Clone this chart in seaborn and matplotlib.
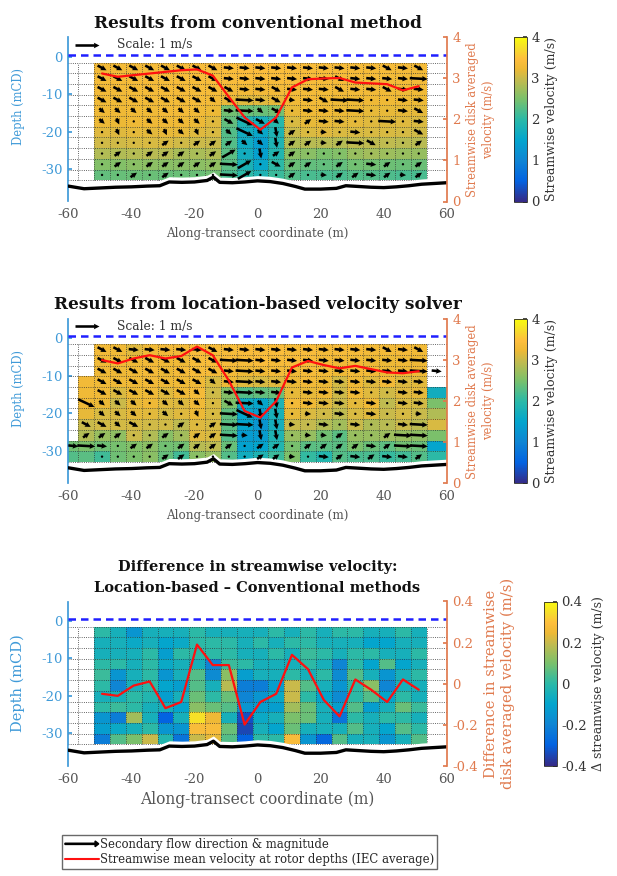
import numpy as np
import matplotlib
matplotlib.use("Agg")
import matplotlib.pyplot as plt
import seaborn as sns
from matplotlib.colors import LinearSegmentedColormap
from matplotlib.patches import FancyArrow
from matplotlib.legend_handler import HandlerPatch
from matplotlib.lines import Line2D

nan = np.nan

## MESH (cell edges, m)
x_edges = [-60.0, -56.8, -51.8, -46.8, -41.8, -36.7, -31.7, -26.7, -21.7, -16.7, -11.6,
           -6.6, -1.6, 3.4, 8.4, 13.5, 18.5, 23.5, 28.5, 33.5, 38.6, 43.6, 48.6, 53.6, 60.0]
row_edges = [-1.6, -4.45, -7.3, -10.15, -13.0, -15.85, -18.7, -21.55, -24.4, -27.25, -30.1, -32.95]

## bed profile
bed_x = [-60, -55, -50, -45, -40, -35, -31, -28, -24, -20, -16, -14, -12, -8, -4, 0, 4, 8,
         12, 15, 20, 25, 28, 32, 36, 40, 44, 48, 52, 56, 60]
bed_z = [-34.5, -35.2, -35.0, -34.8, -34.7, -34.5, -34.4, -33.4, -33.5, -33.4, -33.0, -32.1,
         -33.5, -33.6, -33.4, -33.1, -33.3, -33.8, -34.6, -35.3, -35.3, -35.1, -34.4, -34.6,
         -34.8, -34.9, -34.7, -34.4, -34.0, -33.8, -33.6]

## streamwise speed, conventional method (rows top->bottom, 21 columns)
conv_speed = [
    [3.30, 3.32, 3.30, 3.33, 3.35, 3.35, 3.38, 3.40, 3.42, 3.45, 3.45, 3.42, 3.40, 3.40, 3.38, 3.36, 3.35, 3.35, 3.36, 3.35, 3.34],
    [3.32, 3.33, 3.34, 3.35, 3.36, 3.36, 3.38, 3.38, 3.40, 3.42, 3.42, 3.40, 3.38, 3.36, 3.35, 3.34, 3.33, 3.33, 3.32, 3.32, 3.30],
    [3.30, 3.30, 3.32, 3.33, 3.35, 3.35, 3.36, 3.35, 3.30, 3.30, 3.30, 3.30, 3.32, 3.33, 3.32, 3.30, 3.30, 3.30, 3.28, 3.28, 3.27],
    [3.28, 3.28, 3.30, 3.30, 3.32, 3.32, 3.33, 3.30, 3.20, 3.15, 3.15, 3.20, 3.28, 3.30, 3.28, 3.27, 3.26, 3.25, 3.25, 3.24, 3.22],
    [3.25, 3.26, 3.27, 3.28, 3.30, 3.30, 3.28, 3.22, 2.45, 2.40, 2.40, 2.45, 3.20, 3.25, 3.25, 3.22, 3.22, 3.20, 3.20, 3.20, 3.18],
    [3.22, 3.22, 3.24, 3.25, 3.25, 3.25, 3.22, 3.15, 2.35, 1.85, 1.75, 1.95, 3.10, 3.20, 3.20, 3.18, 3.18, 3.15, 3.15, 3.15, 3.12],
    [3.15, 3.15, 3.18, 3.18, 3.20, 3.20, 3.15, 3.10, 2.25, 1.70, 1.55, 1.85, 3.00, 3.12, 3.15, 3.12, 3.10, 3.10, 3.10, 3.08, 3.05],
    [3.05, 3.05, 3.08, 3.10, 3.10, 3.05, 3.02, 3.00, 2.25, 1.65, 1.40, 1.85, 2.85, 2.90, 2.90, 2.88, 2.95, 2.95, 2.95, 2.92, 2.90],
    [2.85, 2.85, 2.88, 2.90, 2.88, 2.80, 2.80, 2.85, 2.30, 1.70, 1.45, 1.90, 2.60, 2.60, 2.50, 2.55, 2.70, 2.75, 2.72, 2.70, 2.68],
    [2.55, 2.55, 2.60, 2.62, 2.60, 2.60, 2.62, 2.65, 2.30, 1.80, 1.55, 2.00, 2.40, 2.35, 2.35, 2.35, 2.45, 2.45, 2.42, 2.40, 2.40],
    [2.35, 2.38, 2.40, 2.40, 2.38, 2.40, 2.40, 2.45, 2.20, 2.00, 1.85, 2.10, 2.25, 2.20, 2.20, 2.20, 2.25, 2.25, 2.22, 2.20, 2.20],
]

## location-based minus conventional, one list per column (top->bottom)
diff_by_column = [
    [0.00, -0.05, -0.05, 0.00, 0.02, 0.00, -0.05, 0.00, -0.15, -0.12, -0.22],
    [-0.05, -0.05, -0.05, 0.00, -0.15, -0.20, -0.05, 0.02, -0.22, -0.08, 0.05],
    [-0.15, -0.08, -0.05, -0.05, -0.05, -0.05, 0.00, 0.00, 0.15, -0.05, 0.10],
    [-0.05, -0.05, 0.00, 0.00, 0.00, 0.00, -0.02, -0.05, -0.05, 0.00, 0.20],
    [-0.05, -0.10, -0.12, -0.08, -0.15, -0.10, -0.12, -0.05, -0.30, -0.15, -0.02],
    [-0.05, -0.08, 0.00, -0.05, -0.05, -0.12, -0.05, -0.10, -0.05, -0.15, -0.25],
    [0.00, 0.00, 0.00, -0.05, 0.05, 0.05, 0.08, 0.12, 0.35, 0.28, 0.20],
    [-0.05, 0.00, 0.00, -0.20, -0.18, -0.05, 0.00, 0.08, 0.25, 0.28, 0.24],
    [-0.05, 0.00, 0.00, 0.02, 0.12, 0.18, 0.08, 0.05, -0.05, 0.08, 0.05],
    [-0.05, -0.05, -0.05, 0.00, -0.12, -0.22, -0.20, -0.15, -0.33, -0.35, -0.30],
    [-0.05, 0.00, -0.05, -0.05, -0.05, -0.22, -0.15, -0.12, -0.08, -0.05, 0.00],
    [0.00, -0.05, 0.00, -0.05, -0.05, -0.12, -0.08, -0.12, -0.05, -0.10, 0.00],
    [-0.05, 0.00, -0.05, -0.05, 0.00, 0.20, 0.20, 0.15, 0.10, 0.08, 0.28],
    [0.00, 0.00, 0.02, 0.00, -0.05, 0.05, 0.00, 0.08, 0.08, -0.05, -0.15],
    [-0.05, -0.05, 0.00, -0.05, 0.00, -0.05, -0.10, -0.05, -0.05, -0.05, -0.28],
    [0.00, -0.05, -0.05, -0.20, -0.18, -0.15, -0.18, -0.12, -0.25, -0.05, 0.05],
    [0.00, -0.05, 0.00, 0.00, 0.05, 0.00, 0.00, 0.05, 0.00, 0.05, -0.05],
    [-0.05, -0.10, 0.00, -0.10, -0.05, 0.12, 0.05, -0.12, -0.05, -0.05, -0.05],
    [-0.05, -0.10, -0.05, 0.05, -0.15, -0.20, -0.10, -0.05, 0.00, -0.10, -0.15],
    [0.00, -0.05, -0.05, -0.10, -0.05, -0.05, 0.00, 0.08, 0.00, 0.05, -0.05],
    [-0.05, -0.05, 0.00, -0.05, 0.00, -0.05, -0.05, 0.02, -0.05, 0.00, 0.05],
]

## extra edge columns only resolved by the location-based solver
loc_left_outer = [nan, nan, nan, nan, nan, nan, nan, nan, nan, 2.45, 2.25]
loc_left_inner = [nan, nan, nan, 3.30, 3.28, 3.25, 3.20, 3.00, 2.85, 2.50, 2.30]
loc_right_edge = [nan, nan, nan, nan, 1.70, 2.50, 2.85, 3.10, 2.50, 1.50, 2.00]

## disk averaged velocity at rotor depths
rotor_x = [-49.3, -44.3, -39.3, -34.2, -29.2, -24.2, -19.2, -14.2, -9.1, -4.1, 0.9, 5.9,
           10.9, 16.0, 21.0, 26.0, 31.0, 36.0, 41.1, 46.1, 51.1]
conv_rotor = [3.12, 3.04, 3.08, 3.12, 3.16, 3.20, 3.22, 3.07, 2.55, 2.05, 1.75, 2.05, 2.78,
              2.98, 3.00, 3.01, 2.90, 2.88, 2.86, 2.71, 2.81]
loc_rotor = [3.00, 2.92, 3.04, 3.12, 3.04, 3.10, 3.33, 3.12, 2.50, 1.76, 1.60, 2.00, 2.82,
             2.98, 2.88, 2.80, 2.86, 2.78, 2.70, 2.68, 2.73]
diff_rotor = [-0.05, -0.06, -0.01, 0.01, -0.12, -0.09, 0.19, 0.09, 0.09, -0.20, -0.09, -0.05,
              0.14, 0.07, -0.08, -0.16, 0.02, -0.03, -0.09, 0.02, -0.03]

## secondary flow glyphs: code -> (screen angle deg, magnitude m/s)
flow_glyphs = {'a': (-28, 0.42), 'b': (-40, 0.30), 'd': (-65, 0.28), 'w': (-25, 0.75),
               'h': (-6, 0.42), 'H': (-3, 0.75), 's': (-4, 0.26), 'u': (35, 0.33),
               'U': (30, 0.65), 'v': (-80, 0.42), '.': (0, 0.05)}
conv_flow = [
    "aaaaaaaa" "hhhhhhh" "hhhaha",
    "aaaaaaaa" "hhhhhhh" "ahhhhH",
    "aaaaaaaa" "ahhahhh" "ahhahh",
    "aaaaaaab" "aHhasha" "HH..hh",
    "bbbbbbb." "hHba.hh" "hH..ha",
    "bd.bbbb." "awab.uh" "h..H.h",
    ".d.bdbd." "bwbvu.s" ".h...a",
    "....u.uu" "ubbvuus" "uHa..u",
    ".u.uuu.u" "U.vuu.." "......",
    ".u.uuuuu" "HU.auu." "u.hu.u",
    "..u.u..." "HU..u.s" "uuhusu",
]
loc_flow = [
    "  " "aahhhhha" "hhhhhhh" "hhhaha" " ",
    "  " "aaaaaaaa" "HHhhhhh" "hhhhhH" " ",
    "  " "aaaaaaaa" "hHhhhhh" "hhhhhH" "h",
    "  " "aaaaaaab" "hHhhhhh" "hhhhhh" " ",
    "  " "aaaaaab." "hHhh.hh" "hh..hh" " ",
    " w" "bbb.bbb." "aHbv.hh" "h.h.hh" " ",
    "  " "bbb.b.d." "Hwvv.s." "h.h..s" " ",
    " a" "aba..u.u" "HHvvs.h" ".h..hH" " ",
    " u" "uu..u.uu" "Hsvv.ss" "u..uHH" " ",
    "hH" "h.uu.uuu" "u.uu.uu" "uuhuHH" " ",
    "  " "....uu.." "..uus.h" "uhuhhu" " ",
]

# parula-like colormap
parula = LinearSegmentedColormap.from_list("parula", [
    (0.000, (0.2081, 0.1663, 0.5292)), (0.125, (0.0116, 0.3875, 0.8820)),
    (0.250, (0.0589, 0.5198, 0.8305)), (0.375, (0.0133, 0.6451, 0.8040)),
    (0.500, (0.1664, 0.7258, 0.6566)), (0.625, (0.4783, 0.7548, 0.4209)),
    (0.750, (0.7800, 0.7300, 0.3000)), (0.810, (0.9300, 0.7250, 0.2100)),
    (0.870, (0.9950, 0.7450, 0.2400)), (0.930, (0.9650, 0.8600, 0.1750)),
    (1.000, (0.9763, 0.9831, 0.0538))])

LEFT_C = '#3f9ad8'
RIGHT_C = '#e07a4e'
GREY = '#555555'


def pad(main, left2=None, left1=None, right=None):
    n = len(main)
    blank = [nan] * n
    return np.column_stack([left2 or blank, left1 or blank, np.array(main), right or blank])


def decode(rows):
    ang = np.full((len(rows), len(rows[0])), np.nan)
    mag = np.full_like(ang, np.nan)
    for i, r in enumerate(rows):
        for j, c in enumerate(r):
            if c in flow_glyphs:
                ang[i, j], mag[i, j] = flow_glyphs[c]
    return mag * np.cos(np.radians(ang)), mag * np.sin(np.radians(ang))


conv = pad(conv_speed)
diff_main = np.array(diff_by_column).T
diff = pad(diff_main)
loc = pad(np.array(conv_speed) + diff_main, loc_left_outer, loc_left_inner, loc_right_edge)

xc = 0.5 * (np.array(x_edges[:-1]) + np.array(x_edges[1:]))
yc = 0.5 * (np.array(row_edges[:-1]) + np.array(row_edges[1:]))
XC, YC = np.meshgrid(xc, yc)

sns.set_theme(style='white')
plt.rcParams['font.family'] = ['DejaVu Serif']
plt.rcParams['axes.unicode_minus'] = False

fig = plt.figure(figsize=(6.17, 8.76), dpi=100)
W, H = 617, 876


def frac(l, t, w, h):
    return [l / W, 1 - (t + h) / H, w / W, h / H]


def draw_panel(top, field, vmin, vmax, cticks, rotor, rlim, rticks, rlabels,
               title, rlabel, clabel, flow=None, big=False, cb_left=514):
    ax = fig.add_axes(frac(68.3, top, 378.5, 164.1))
    cax = fig.add_axes(frac(cb_left, top, 13, 164.1))
    mesh = ax.pcolormesh(x_edges, row_edges, np.ma.masked_invalid(field), cmap=parula,
                         vmin=vmin, vmax=vmax, shading='flat', zorder=1)
    ax.hlines(row_edges, -60, 60, colors='#333333', linestyles=':', linewidth=0.6, zorder=2)
    ax.vlines(x_edges[1:-1], row_edges[-1], row_edges[0], colors='#333333',
              linestyles=':', linewidth=0.6, zorder=2)
    ax.fill_between(bed_x, bed_z, np.array(bed_z) + 1.4, color='white', lw=0, zorder=3)
    sns.lineplot(x=bed_x, y=bed_z, color='black', lw=2.4, ax=ax, sort=False, zorder=4)
    ax.axhline(0.5, color='#1f1fff', lw=1.8, ls=(0, (3, 2)), zorder=4)
    if flow is not None:
        U, V = decode(flow)
        q = ax.quiver(XC, YC, U, V, pivot='middle', angles='uv', scale_units='inches',
                      scale=1 / 0.24, width=0.0068, headwidth=2.2, headlength=2.2,
                      headaxislength=2.0, color='black', zorder=5)
        ax.quiverkey(q, 0.082, 0.955, 1, 'Scale: 1 m/s', labelpos='E', coordinates='axes',
                     labelsep=0.18, fontproperties={'size': 8.8}, labelcolor='#333333')
    ax.set_xlim(-60, 60)
    ax.set_ylim(-38.6, 5.1)
    ax.set_xticks(range(-60, 61, 20))
    ax.set_yticks([-30, -20, -10, 0])
    fs_lab = 11.2 if big else 8.6
    ax.set_xlabel('Along-transect coordinate (m)', color=GREY, fontsize=fs_lab, labelpad=4)
    ax.set_ylabel('Depth (mCD)', color=LEFT_C, fontsize=10.5 if big else 8.3)
    ax.yaxis.set_label_coords(-0.115, 0.5 if big else 0.58)
    ax.tick_params(axis='x', length=0, labelcolor=GREY, labelsize=9.5, pad=5)
    ax.tick_params(axis='y', colors=LEFT_C, direction='in', length=3, labelsize=9.5, pad=4)
    for s in ['top', 'bottom', 'right']:
        ax.spines[s].set_visible(False)
    ax.spines['left'].set_color(LEFT_C)
    ax.set_title(title, fontweight='bold', fontsize=10.5 if big else 12.2,
                 pad=7, color='#111111', linespacing=1.6)

    axr = ax.twinx()
    sns.lineplot(x=rotor_x, y=rotor, ax=axr, color='#ff1010', lw=1.6, sort=False)
    axr.set_ylim(*rlim)
    axr.set_yticks(rticks)
    axr.set_yticklabels(rlabels)
    axr.tick_params(axis='y', colors=RIGHT_C, direction='in', length=3, labelsize=9.5, pad=4)
    for s in ['top', 'bottom', 'left']:
        axr.spines[s].set_visible(False)
    axr.spines['right'].set_color(RIGHT_C)
    axr.set_ylabel(rlabel, color=RIGHT_C, fontsize=10.6 if big else 8.3, labelpad=4,
                   linespacing=1.3)

    cb = fig.colorbar(mesh, cax=cax)
    cb.set_ticks(cticks)
    cb.ax.set_yticklabels([f'{t:g}' for t in cticks])
    cb.ax.tick_params(labelsize=9.5, length=3, direction='in', colors='#333333', pad=3)
    cb.outline.set_linewidth(0.6)
    cb.set_label(clabel, fontsize=9, color='#333333')
    return ax


draw_panel(37.4, conv, 0, 4, [0, 1, 2, 3, 4], conv_rotor, (0, 4), [0, 1, 2, 3, 4],
           ['0', '1', '2', '3', '4'], 'Results from conventional method',
           'Streamwise disk averaged\nvelocity (m/s)', 'Streamwise velocity (m/s)',
           flow=[" " * 2 + r + " " for r in conv_flow])
draw_panel(319.1, loc, 0, 4, [0, 1, 2, 3, 4], loc_rotor, (0, 4), [0, 1, 2, 3, 4],
           ['0', '1', '2', '3', '4'], 'Results from location-based velocity solver',
           'Streamwise disk averaged\nvelocity (m/s)', 'Streamwise velocity (m/s)',
           flow=loc_flow)
draw_panel(601.5, diff, -0.4, 0.4, [-0.4, -0.2, 0, 0.2, 0.4], diff_rotor, (-0.4, 0.4),
           [-0.4, -0.2, 0, 0.2, 0.4], ['-0.4', '-0.2', '0', '0.2', '0.4'],
           'Difference in streamwise velocity:\nLocation-based \u2013 Conventional methods',
           'Difference in streamwise\ndisk averaged velocity (m/s)',
           '\u0394 streamwise velocity (m/s)', big=True, cb_left=544)


def make_arrow(legend, orig_handle, xdescent, ydescent, width, height, fontsize):
    return FancyArrow(0, 0.5 * height, width, 0, length_includes_head=True,
                      head_width=0.7 * height, head_length=0.45 * height,
                      width=0.15 * height, color='black')


arrow_proxy = FancyArrow(0, 0, 1, 0, color='black')
red_proxy = Line2D([], [], color='#ff1010', lw=1.5)
fig.legend([arrow_proxy, red_proxy],
           ['Secondary flow direction & magnitude',
            'Streamwise mean velocity at rotor depths (IEC average)'],
           handler_map={FancyArrow: HandlerPatch(patch_func=make_arrow)},
           loc='upper left', bbox_to_anchor=(62 / W, 1 - 835 / H), frameon=True,
           fancybox=False, edgecolor='#444444', fontsize=8.4, handlelength=2.9,
           handletextpad=0.1, borderpad=0.25, labelspacing=0.2, borderaxespad=0)

fig.savefig('out.png', dpi=100)
